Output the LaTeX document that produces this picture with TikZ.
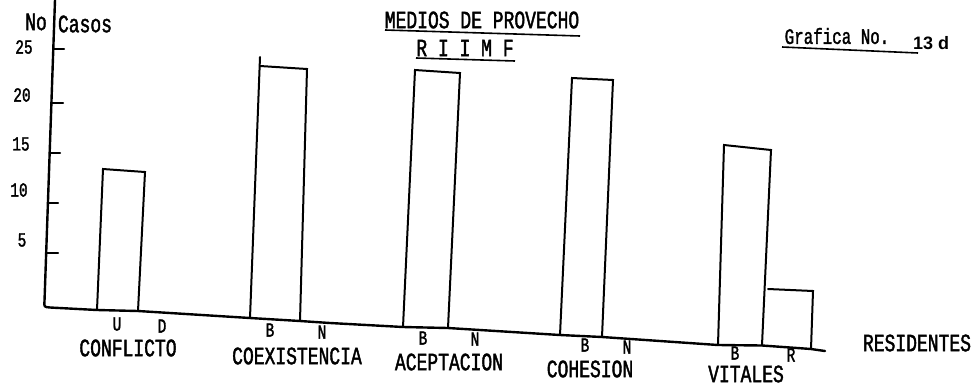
\documentclass[tikz,border=0pt]{standalone}
\usepackage{fontspec}
\newfontfamily\tw[FakeStretch=0.72,FakeBold=1.6]{Liberation Mono}
\newfontfamily\hb{Liberation Sans}
\begin{document}
\begin{tikzpicture}[x=1pt,y=-1pt,
  big/.style={font=\tw\fontsize{25}{28}\selectfont, inner sep=0pt, anchor=center},
  mid/.style={font=\tw\fontsize{22}{26}\selectfont, inner sep=0pt, anchor=center},
  sml/.style={font=\tw\fontsize{20}{24}\selectfont, inner sep=0pt, anchor=center},
  barline/.style={line width=2pt, line join=miter, line cap=round},
  axisline/.style={line width=2.4pt, line join=round, line cap=round},
  uline/.style={line width=1.6pt}]
\useasboundingbox (0,0) rectangle (974,386);

% axes
\draw[axisline] (55,0) -- (44.5,301) .. controls (44,307) .. (50,307.5)
  -- (97,310) -- (138,311) -- (250,318) -- (300,321) -- (330,323)
  -- (403,327) -- (448,328) -- (560,335) -- (602,337) -- (660,341)
  -- (718,345) -- (762,345.5) -- (811,349) -- (825,351);
% ticks
\draw[axisline] (53.3,49) -- (64,49);
\draw[axisline] (51.4,103) -- (63,103);
\draw[axisline] (49.7,153) -- (60,153);
\draw[axisline] (48,203) -- (58,203);
\draw[axisline] (46.2,253) -- (58,253);

% y labels
\node[sml] (n25) at (24,47) {25};
\node[sml] (n20) at (22,95) {20};
\node[sml] (n15) at (21,144) {15};
\node[sml] (n10) at (19,190) {10};
\node[sml] (n5) at (22,240) {5};
\node[big] (no) at (36,22) {No};
\node[big] (casos) at (85,24) {Casos};

% bars
\draw[barline] (97,310) -- (103,169) -- (145,172) -- (138,311);
\draw[barline] (250,318) -- (260,57);
\draw[barline] (260,66) -- (307,69) -- (300,321);
\draw[barline] (403,327) -- (415,70) -- (460,73) -- (448,328);
\draw[barline] (560,335) -- (572,78) -- (613,80) -- (602,337);
\draw[barline] (718,345) -- (724,145) -- (771,150) -- (762,345);
\draw[barline] (768,289) -- (813,291) -- (811,349);

% titles
\node[big] (t1) at (482,20) {MEDIOS DE PROVECHO};
\draw[uline] (385,30) -- (580,36);
\node[big] (t2) at (465,48) {R I I M F};
\draw[uline] (416,58) -- (515,61);
\node[mid] (g) at (837,36) {Grafica No.};
\draw[uline] (782,47) -- (918,53);
\node[font=\hb\bfseries\fontsize{18}{20}\selectfont, inner sep=0pt] (g13) at (931,43) {13 d};

% bar labels
\node[sml] (u) at (117,324) {U};
\node[sml] (d) at (162,326) {D};
\node[big] (c1) at (128,348) {CONFLICTO};
\node[sml] (b2) at (270,330) {B};
\node[sml] (n2) at (322,332) {N};
\node[big] (c2) at (297,356) {COEXISTENCIA};
\node[sml] (b3) at (423,338) {B};
\node[sml] (n3) at (475,339) {N};
\node[big] (c3) at (449,362) {ACEPTACION};
\node[sml] (b4) at (585,345) {B};
\node[sml] (n4) at (627,347) {N};
\node[big] (c4) at (590,369) {COHESION};
\node[sml] (b5) at (735,353) {B};
\node[sml] (r5) at (791,355) {R};
\node[big] (c5) at (746,374) {VITALES};
\node[big] (res) at (917,343) {RESIDENTES};
\end{tikzpicture}
\end{document}
